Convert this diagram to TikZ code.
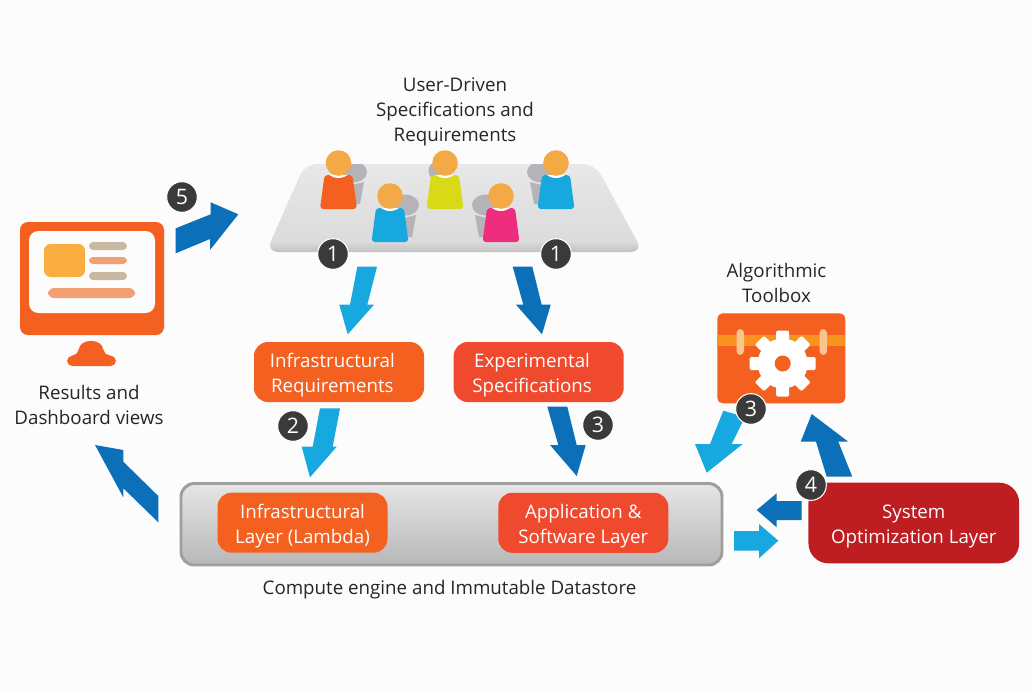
\documentclass[tikz,border=0pt]{standalone}
\usepackage{fontspec}
\setmainfont{Open Sans}
\definecolor{bgc}{HTML}{FCFCFC}
\definecolor{orng}{HTML}{F4601F}
\definecolor{redo}{HTML}{EF4A2D}
\definecolor{dred}{HTML}{BE1E22}
\definecolor{lblue}{HTML}{17A8E0}
\definecolor{dblue}{HTML}{0B70B8}
\definecolor{badge}{HTML}{3A3A3A}
\definecolor{skin}{HTML}{F3A945}
\definecolor{shad}{HTML}{B4B4B8}
\definecolor{ylw}{HTML}{D8DA18}
\definecolor{pink}{HTML}{EE2D7E}
\definecolor{tan}{HTML}{C9B8A2}
\definecolor{pch}{HTML}{F2A071}
\definecolor{gold}{HTML}{F9AE3F}
\definecolor{strap}{HTML}{F7931E}
\definecolor{buckle}{HTML}{FAC48D}
\pgfdeclareverticalshading{plat}{100bp}{color(0bp)=(black!24);color(25bp)=(black!24);color(31bp)=(black!14);color(75bp)=(black!9);color(100bp)=(black!9)}
\newcommand{\lbl}{\fontsize{14.05pt}{18.7pt}\selectfont}
\newcommand{\tp}{\rule{0pt}{15.3pt}}
\tikzset{
  box/.style={rounded corners=10.5pt,minimum width=#1,minimum height=45pt,text=white,align=center,font=\lbl,inner sep=0pt},
  captext/.style={align=center,font=\lbl,text=black!85,inner sep=0pt},
  num/.style={circle,fill=badge,draw=white,line width=.8pt,minimum size=23pt,inner sep=0pt,text=white,font=\fontsize{16pt}{16pt}\selectfont},
}
\newcommand{\person}[3]{% x,y,body colour
  \begin{scope}[shift={(#1,#2)}]
    \begin{scope}
      \clip[rounded corners=2.5pt] (-14,-18) -- (14,-18) -- (18.5,16) -- (-18.5,16) -- cycle;
      \fill[#3] (-20,-20) rectangle (20,18);
      \fill[white] (0,-30) circle (15);
    \end{scope}
    \fill[skin] (0,-30) circle (12.8);
  \end{scope}}
\newcommand{\pshadow}[3]{% x,y,side
  \begin{scope}[shift={(#1,#2)}]
    \fill[shad] (#3*15,-21) ellipse[x radius=14,y radius=10.5];
    \fill[shad] (#3*14,-8) -- (#3*26,-11) -- (#3*22,11) -- (#3*14,11) -- cycle;
  \end{scope}}
\begin{document}
\begin{tikzpicture}[x=.75pt,y=-.75pt]
\useasboundingbox (0,0) rectangle (1033,690);
\fill[bgc] (0,0) rectangle (1033,690);
% platform
\shade[shading=plat,rounded corners=9pt] (305,164) -- (595,164) -- (643,252) -- (266,252) -- cycle;
\begin{scope}
  \clip (0,164) rectangle (1033,690);
  \pshadow{338}{193}{1}
  \pshadow{390}{226}{1}
  \pshadow{501}{226}{-1}
  \pshadow{556}{193}{-1}
  \fill[shad] (439,171) circle (10.5);
\end{scope}
\person{338.5}{193}{orng}
\person{390}{226}{lblue}
\person{445}{193}{ylw}
\person{501}{226}{pink}
\person{556}{193}{lblue}
% captions
\node[captext] (cUser) at (455,112) {User-Driven\\Specifications and\\Requirements};
\node[captext] (cRes) at (89,405) {Results and\\Dashboard views};
\node[captext] (cAlg) at (776.5,283) {Algorithmic\\Toolbox};
\node[captext] (cComp) at (449.5,590) {Compute engine and Immutable Datastore};
% monitor
\fill[orng,rounded corners=6pt] (20,222) rectangle (164,335);
\fill[bgc,rounded corners=7pt] (29,231) rectangle (155,313);
\fill[gold,rounded corners=5pt] (44,244) rectangle (85,277);
\fill[tan,rounded corners=3pt] (89,242) rectangle (127,250);
\fill[pch,rounded corners=3pt] (89,257) rectangle (127,264);
\fill[tan,rounded corners=3pt] (89,272) rectangle (127,280);
\fill[pch,rounded corners=4.5pt] (48,288) rectangle (135,298);
\fill[orng,rounded corners=4pt] (67,366) -- (67,356) -- (78,355) .. controls (80,338) and (102,338) .. (104,355) -- (116,356) -- (116,366) -- cycle;
% layer
\shade[top color=black!10,bottom color=black!28,draw=black!38,line width=2.2pt,rounded corners=10pt] (181,483.5) rectangle (722,565);
\node[box=127.5pt,fill=orng] (infl) at (302.5,522.7) {\tp Infrastructural\\Layer (Lambda)};
\node[box=127.5pt,fill=redo] (appl) at (583.3,522.8) {\tp Application \&\\Software Layer};
\node[box=127.5pt,fill=orng] (infr) at (339,372) {\tp\hspace*{-10pt}Infrastructural\\\hspace*{-10pt}Requirements};
\node[box=127.5pt,fill=redo] (exps) at (538.7,372) {\tp\hspace*{-10pt}Experimental\\\hspace*{-10pt}Specifications};
\node[box=158pt,minimum height=60.5pt,rounded corners=15pt,fill=dred] (sys) at (913.8,523) {\tp System\\Optimization Layer};
% toolbox
\fill[orng,rounded corners=4pt] (717.3,313.3) rectangle (845.3,403.3);
\fill[strap] (717.3,335) rectangle (845.3,345.5);
\fill[buckle,rounded corners=3pt] (736.5,329) rectangle (744,355);
\fill[buckle,rounded corners=3pt] (819.5,329) rectangle (827,355);
\begin{scope}[shift={(782.7,363.5)}]
  \fill[white] (0,0) circle (25);
  \foreach \a in {0,45,...,315}{\fill[white,rotate=\a,rounded corners=1pt] (-6.5,-33) rectangle (6.5,-20);}
  \fill[orng] (0,0) circle (8);
\end{scope}
% block arrows
\fill[dblue] (175.7,228.3) -- (210.7,214.3) -- (210.7,202.3) -- (238.3,214.3) -- (210,250) -- (210,239) -- (175.7,253.3) -- cycle;
\fill[dblue] (95,445) -- (123.3,450) -- (123.3,461.7) -- (158.3,496) -- (158.3,522.3) -- (123.3,488.3) -- (123.3,497.3) -- cycle;
\fill[lblue] (320,408.3) -- (340,408.3) -- (332.7,446.7) -- (336.7,446.7) -- (310,477.3) -- (301.7,446.7) -- (312.7,446.7) -- cycle;
\fill[lblue] (723.3,410.7) -- (745,417) -- (731.7,444) -- (742.7,444) -- (706.7,472.7) -- (695,444) -- (710,444) -- cycle;
\fill[dblue] (826.7,476.7) -- (852.3,476.7) -- (838.3,441.7) -- (848.3,441.7) -- (811.7,414) -- (800.7,441.7) -- (816,441.7) -- cycle;
\fill[dblue] (801.7,501) -- (776.7,501) -- (776.7,493.3) -- (756.7,510) -- (776.7,527.3) -- (776.7,520) -- (801.7,520) -- cycle;
\fill[lblue] (734,531) -- (759,531) -- (759,524) -- (778.3,540.7) -- (759,558.3) -- (759,550.7) -- (734,550.7) -- cycle;
\fill[lblue] (357.3,266.7) -- (377,266.7) -- (367.3,304.7) -- (374,304.7) -- (347.7,334.3) -- (339.3,304.7) -- (350,304.7) -- cycle;
\fill[dblue] (512.7,266.7) -- (532.3,266.7) -- (541.7,304.7) -- (550.7,304.7) -- (542,334.3) -- (516,304.7) -- (523.3,304.7) -- cycle;
\fill[dblue] (547.3,406.7) -- (567.3,406.7) -- (576.7,445) -- (585.7,445) -- (576.7,476) -- (550,445) -- (558.3,445) -- cycle;
% badges
\node[num] (b5) at (182,197) {5};
\node[num] (b1a) at (333,254) {1};
\node[num] (b1b) at (556,254) {1};
\node[num] (b2) at (293,426) {2};
\node[num] (b3a) at (598,425) {3};
\node[num] (b3b) at (751,409) {3};
\node[num] (b4) at (811,485) {4};
\end{tikzpicture}
\end{document}
